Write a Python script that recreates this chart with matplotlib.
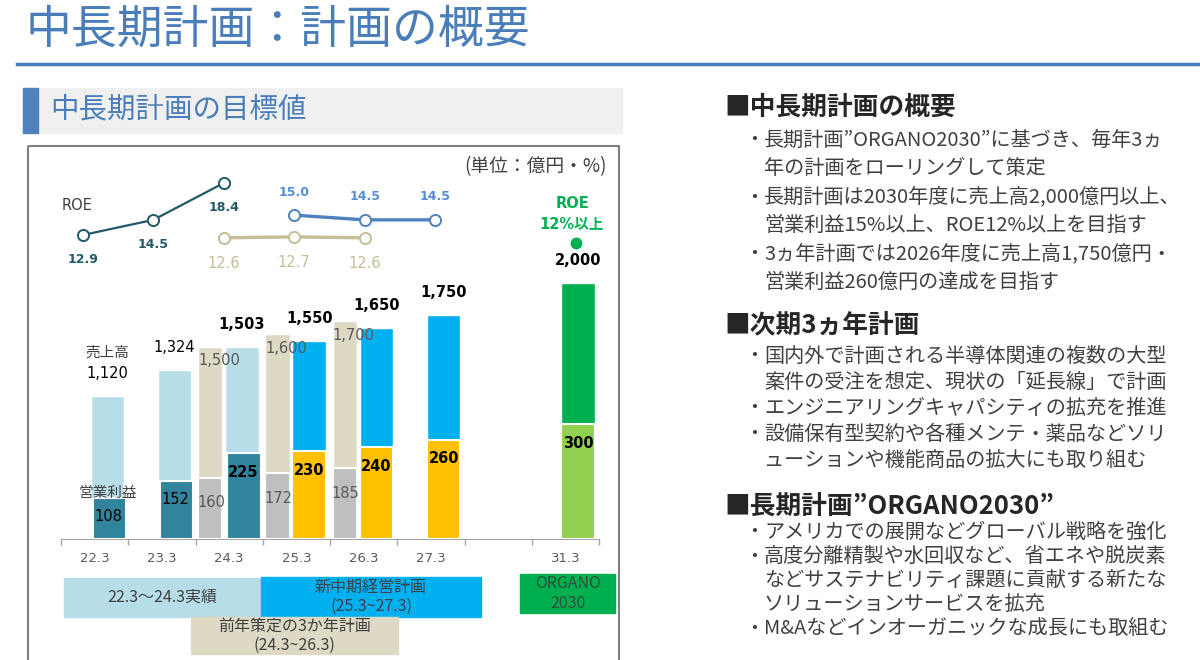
import numpy as np
import matplotlib.pyplot as plt
from matplotlib.patches import Rectangle

plt.rcParams['font.family'] = ['DejaVu Sans', 'Noto Sans CJK JP']
JP = ['Noto Sans CJK JP', 'DejaVu Sans']

# ---- data ----
periods = ['22.3', '23.3', '24.3', '25.3', '26.3', '27.3', '', '31.3']

x_actual = [0, 1, 2]
sales_actual = [1120, 1324, 1503]
op_actual = [108, 152, 225]

x_new = [3, 4, 5]
sales_new = [1550, 1650, 1750]
op_new = [230, 240, 260]

x_prior = [2, 3, 4]
sales_prior = [1500, 1600, 1700]
op_prior = [160, 172, 185]

x_2030 = [7]
sales_2030 = [2000]
op_2030 = [300]

roe_actual = [12.9, 14.5, 18.4]
roe_new = [15.0, 14.5, 14.5]
roe_prior = [12.6, 12.7, 12.6]
roe_2030 = [12]

# ---- page layout in pixels ----
W, H = 1200, 660


def px_box(x0, y0, x1, y1):
    return [x0 / W, 1 - y1 / H, (x1 - x0) / W, (y1 - y0) / H]


fig = plt.figure(figsize=(12, 6.6), dpi=100)
bg = fig.add_axes([0, 0, 1, 1])
bg.set_xlim(0, W)
bg.set_ylim(H, 0)
bg.axis('off')

BLUE = '#4A7EBB'
DARK = '#404040'

# title + rule
bg.text(26, 29, '中長期計画：計画の概要', fontsize=33, color=BLUE, family=JP, va='center')
bg.plot([17, 1200], [64, 64], color=BLUE, lw=2.5)

# sub header
bg.add_patch(Rectangle((23, 88), 599, 45, color='#F0F0F0'))
bg.add_patch(Rectangle((23, 88), 15, 45, color='#4F81BD'))
bg.text(50, 109, '中長期計画の目標値', fontsize=20.5, color=BLUE, family=JP, va='center')

# chart frame
bg.add_patch(Rectangle((28, 146), 591, 530, fill=False, edgecolor='#7F7F7F', lw=1.5))
bg.text(607, 167, '(単位：億円・%)', fontsize=13.5, color=DARK, family=JP, ha='right', va='center')

# bottom period boxes
boxes = [
    ((64, 578, 197, 39), '#B7DEE8', ['22.3～24.3実績']),
    ((261, 577, 220, 40), '#00B0F0', ['新中期経営計画', '(25.3~27.3)']),
    ((191, 617, 207, 37), '#DDD9C4', ['前年策定の3か年計画', '(24.3~26.3)']),
    ((520, 574, 95, 39), '#00B050', ['ORGANO', '2030']),
]
for (bx, by, bw, bh), col, lines in boxes:
    bg.add_patch(Rectangle((bx, by), bw, bh, color=col))
    step = 19
    y0 = by + bh / 2 - step * (len(lines) - 1) / 2
    tcol = '#2F4F3A' if col == '#00B050' else DARK
    for k, s in enumerate(lines):
        bg.text(bx + bw / 2, y0 + k * step, s, fontsize=11.5, color=tcol, family=JP,
                ha='center', va='center')

# ---- bar chart ----
MAIN_OFF, MAIN_W = 0.19, 0.5
PRIOR_OFF, PRIOR_W = -0.28, 0.36

ax = fig.add_axes(px_box(61, 283, 599, 539))
ax.patch.set_alpha(0)
ax.set_xlim(-0.5, 7.5)
ax.set_ylim(0, 2000)
ax2 = ax.twinx()
ax2.set_ylim(0, 670)
ax2.axis('off')

xa = np.array(x_actual) + MAIN_OFF
xn = np.array(x_new) + MAIN_OFF
xp = np.array(x_prior) + PRIOR_OFF
xg = np.array(x_2030) + MAIN_OFF

ax.bar(xp, sales_prior, PRIOR_W, color='#DDD9C4', edgecolor='white', lw=1)
ax.bar(xa, sales_actual, MAIN_W, color='#B7DEE8', edgecolor='white', lw=1)
ax.bar(xn, sales_new, MAIN_W, color='#00B0F0', edgecolor='white', lw=1)
ax.bar(xg, sales_2030, MAIN_W, color='#00B050', edgecolor='white', lw=1)

ax2.bar(xp, op_prior, PRIOR_W, color='#BFBFBF', edgecolor='white', lw=1.5)
ax2.bar(xa + 0.03, op_actual, MAIN_W, color='#31849B', edgecolor='white', lw=1.5)
ax2.bar(xn, op_new, MAIN_W, color='#FFC000', edgecolor='white', lw=1.5)
ax2.bar(xg, op_2030, MAIN_W, color='#92D050', edgecolor='white', lw=1.5)

ax.set_xticks(range(len(periods)))
ax.set_xticklabels(periods, fontsize=9.5, color='#595959')
ax.set_xticks(np.arange(-0.5, len(periods), 1), minor=True)
ax.tick_params(axis='x', which='major', length=0, pad=9.5)
ax.tick_params(axis='x', which='minor', length=4, width=1, color='#A6A6A6')
ax.set_yticks([])
for side in ['top', 'right', 'left']:
    ax.spines[side].set_visible(False)
ax.spines['bottom'].set_color('#A6A6A6')


def label(axis, x, y, s, dx, dy, **kw):
    axis.annotate(s, (x, y), xytext=(dx, dy), textcoords='offset pixels',
                  ha='center', va='center', annotation_clip=False, **kw)


# sales labels
for i, (x, v) in enumerate(zip(xa, sales_actual)):
    w = 'bold' if i == len(sales_actual) - 1 else 'normal'
    label(ax, x, v, f'{v:,}', 0, 22, fontsize=10.5, fontweight=w, color='black')
for x, v in zip(np.concatenate([xn, xg]), sales_new + sales_2030):
    label(ax, x, v, f'{v:,}', 0, 22, fontsize=10.5, fontweight='bold', color='black')
for x, v in zip(xp, sales_prior):
    label(ax, x, v, f'{v:,}', 9, -14, fontsize=10.5, color='#595959')
label(ax, xa[0], sales_actual[0], '売上高', 0, 43, fontsize=10.5, color=DARK, family=JP)

# operating profit labels
for i, (x, v) in enumerate(zip(xa, op_actual)):
    w = 'bold' if i == len(op_actual) - 1 else 'normal'
    label(ax2, x, v, f'{v}', 1, -19, fontsize=10.5, fontweight=w, color='black')
for x, v in zip(np.concatenate([xn, xg]), op_new + op_2030):
    label(ax2, x, v, f'{v}', 0, -19, fontsize=10.5, fontweight='bold', color='black')
for x, v in zip(xp, op_prior):
    label(ax2, x, v, f'{v}', 1, -25, fontsize=10.5, color='#595959')
label(ax2, xa[0], op_actual[0], '営業利益', 0, 5, fontsize=10.5, color=DARK, family=JP)

# ---- ROE lines ----
rax = fig.add_axes(px_box(61, 150, 599, 290))
rax.patch.set_alpha(0)
rax.set_xlim(-0.3125, 7.33)
rax.set_ylim(7.08, 21.89)
rax.axis('off')

mk = dict(marker='o', markersize=8, markerfacecolor='white', markeredgewidth=1.4)
rax.plot(x_prior, roe_prior, color='#C4BD97', lw=2.4, markeredgecolor='#C4BD97', **mk)
rax.plot(x_new, roe_new, color='#4F81BD', lw=2.4, markeredgecolor='#4F81BD', **mk)
rax.plot(x_actual, roe_actual, color='#215968', lw=1.6, markeredgecolor='#215968', **mk)
rax.plot(x_2030, roe_2030, 'o', color='#00B050', markersize=7.5)

for x, v in zip(x_actual, roe_actual):
    label(rax, x, v, f'{v:.1f}', 0, -25, fontsize=9, fontweight='bold', color='#215968')
for x, v in zip(x_new, roe_new):
    label(rax, x, v, f'{v:.1f}', 0, 23, fontsize=9, fontweight='bold', color='#558ED5')
for x, v in zip(x_prior, roe_prior):
    label(rax, x, v, f'{v:.1f}', 0, -26, fontsize=10.5, color='#C4BD97')
label(rax, x_actual[0], roe_actual[0], 'ROE', -6, 29, fontsize=10.5, color=DARK)
label(rax, x_2030[0], roe_2030[0], 'ROE', -3, 40, fontsize=10.5, fontweight='bold', color='#00B050')
label(rax, x_2030[0], roe_2030[0], '12%以上', -4, 20, fontsize=10.5, fontweight='bold', color='#00B050')

# ---- right-hand text ----
sections = [
    ('■中長期計画の概要', 107, 140, 28.5, [
        ('・', '長期計画”ORGANO2030”に基づき、毎年3ヵ'),
        ('', '年の計画をローリングして策定'),
        ('・', '長期計画は2030年度に売上高2,000億円以上、'),
        ('', '営業利益15%以上、ROE12%以上を目指す'),
        ('・', '3ヵ年計画では2026年度に売上高1,750億円・'),
        ('', '営業利益260億円の達成を目指す'),
    ]),
    ('■次期3ヵ年計画', 325, 356, 26, [
        ('・', '国内外で計画される半導体関連の複数の大型'),
        ('', '案件の受注を想定、現状の「延長線」で計画'),
        ('・', 'エンジニアリングキャパシティの拡充を推進'),
        ('・', '設備保有型契約や各種メンテ・薬品などソリ'),
        ('', 'ューションや機能商品の拡大にも取り組む'),
    ]),
    ('■長期計画”ORGANO2030”', 506, 532, 24.2, [
        ('・', 'アメリカでの展開などグローバル戦略を強化'),
        ('・', '高度分離精製や水回収など、省エネや脱炭素'),
        ('', 'などサステナビリティ課題に貢献する新たな'),
        ('', 'ソリューションサービスを拡充'),
        ('・', 'M&Aなどインオーガニックな成長にも取組む'),
    ]),
]
for head, hy, ly, step, lines in sections:
    bg.text(724, hy, head, fontsize=18.5, fontweight='bold', color='#262626',
            family=JP, va='center')
    for k, (bullet, s) in enumerate(lines):
        y = ly + k * step
        if bullet:
            bg.text(744, y, bullet, fontsize=14.5, color=DARK, family=JP, va='center')
        bg.text(764, y, s, fontsize=14.5, color=DARK, family=JP, va='center')

fig.savefig('out.png', dpi=100)
